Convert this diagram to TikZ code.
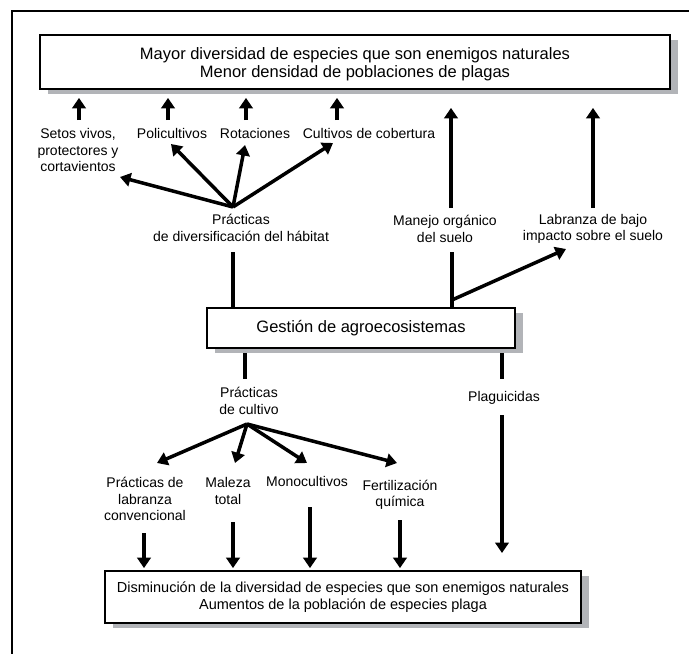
\documentclass[tikz,border=0pt]{standalone}
\usepackage{fontspec}
\setmainfont{Liberation Sans}
\usetikzlibrary{arrows.meta,shadows}
\definecolor{shadowgray}{RGB}{178,180,184}

\begin{document}
\begin{tikzpicture}[x=1pt, y=-1pt,
    goalbox/.style={draw, line width=1.8pt, fill=white, inner sep=0pt, align=center,
                    drop shadow={shadow xshift=8pt, shadow yshift=-5pt, fill=shadowgray, opacity=1}},
    lbl/.style={inner sep=0pt, align=center, font=\fontsize{14}{16.5}\selectfont},
    stem/.style={line width=3.5pt},
    arr/.style={line width=3.5pt, -{Triangle[length=10.5pt, width=13.5pt]}}]
    \useasboundingbox (0,0) rectangle (689,654);

    \draw[line width=2pt] (12,654) -- (12,11) -- (689,11);

    \node[goalbox, minimum width=630pt, minimum height=54pt] (top) at (355,62) {};
    \node[inner sep=0pt, align=center, font=\fontsize{16.5}{18}\selectfont] (topText) at (355,64.5)
          {Mayor diversidad de especies que son enemigos naturales\\Menor densidad de poblaciones de plagas};
    \node[goalbox, minimum width=308pt, minimum height=40pt,
          font=\fontsize{16.5}{18}\selectfont] (gestion) at (361,328) {Gestión de agroecosistemas};
    \node[goalbox, minimum width=476pt, minimum height=52pt,
          font=\fontsize{14.5}{17}\selectfont] (bottom) at (343,597)
          {Disminución de la diversidad de especies que son enemigos naturales\\Aumentos de la población de especies plaga};

    \node[lbl] (setos) at (78,150) {Setos vivos,\\protectores y\\cortavientos};
    \node[lbl] (poli) at (172,133) {Policultivos};
    \node[lbl] (rota) at (255,133) {Rotaciones};
    \node[lbl] (cober) at (369,133) {Cultivos de cobertura};
    \node[lbl] (divers) at (241,228) {Prácticas\\de diversificación del hábitat};
    \node[lbl] (manejo) at (445,229) {Manejo orgánico\\del suelo};
    \node[lbl] (labranza) at (593,229) {Labranza de bajo\\impacto sobre el suelo};

    \node[lbl] (cultivo) at (249,401) {Prácticas\\de cultivo};
    \node[lbl] (plag) at (504,398) {Plaguicidas};
    \node[lbl] (labconv) at (145,499) {Prácticas de\\labranza\\convencional};
    \node[lbl] (maleza) at (228,491) {Maleza\\total};
    \node[lbl] (mono) at (307,481) {Monocultivos};
    \node[lbl] (fert) at (400,495) {Fertilización\\química};

    % short arrows up to the goal box
    \coordinate (up1) at (79,120);
    \coordinate (up2) at (168,120);
    \coordinate (up3) at (246,120);
    \coordinate (up4) at (337,120);
    \foreach \n in {1,...,4} {
        \draw[arr, shorten >=8pt] (up\n) -- (up\n |- top.south);
    }
    \coordinate (org) at (451,208);
    \coordinate (lab) at (593,208);
    \draw[arr, shorten >=18pt] (org) -- (org |- top.south);
    \draw[arr, shorten >=18pt] (lab) -- (lab |- top.south);

    % habitat fan
    \coordinate (hab) at (233,207);
    \coordinate (toSetos) at (120,177);
    \coordinate (toPoli) at (171,144);
    \coordinate (toRota) at (245,145);
    \coordinate (toCober) at (333,143);
    \foreach \t in {toSetos,toPoli,toRota,toCober} {
        \draw[arr] (hab) -- (\t);
    }

    \coordinate (habStem) at (233,252);
    \coordinate (orgStem) at (452,252);
    \draw[stem] (habStem) -- (habStem |- gestion.north);
    \draw[stem] (orgStem) -- (orgStem |- gestion.north);
    \coordinate (fork) at (452,300);
    \coordinate (toLab) at (566,249);
    \draw[arr] (fork) -- (toLab);

    % below the management box
    \coordinate (cultStem) at (245,353);
    \coordinate (plagStem) at (502,353);
    \draw[stem] (cultStem) -- ++(0,26);
    \draw[stem] (plagStem) -- ++(0,26);
    \coordinate (plagArr) at (502,415);
    \draw[arr] (plagArr) -- ++(0,138);

    % crop fan
    \coordinate (cult) at (247,424);
    \coordinate (toLabconv) at (157,463);
    \coordinate (toMaleza) at (235,463);
    \coordinate (toMono) at (307,463);
    \coordinate (toFert) at (397,463);
    \foreach \t in {toLabconv,toMaleza,toMono,toFert} {
        \draw[arr] (cult) -- (\t);
    }

    % short arrows down to the result box
    \coordinate (dn1) at (144,533);
    \coordinate (dn2) at (233,522);
    \coordinate (dn3) at (310,507);
    \coordinate (dn4) at (400,520);
    \foreach \n in {1,...,4} {
        \draw[arr, shorten >=2pt] (dn\n) -- (dn\n |- bottom.north);
    }
\end{tikzpicture}
\end{document}
